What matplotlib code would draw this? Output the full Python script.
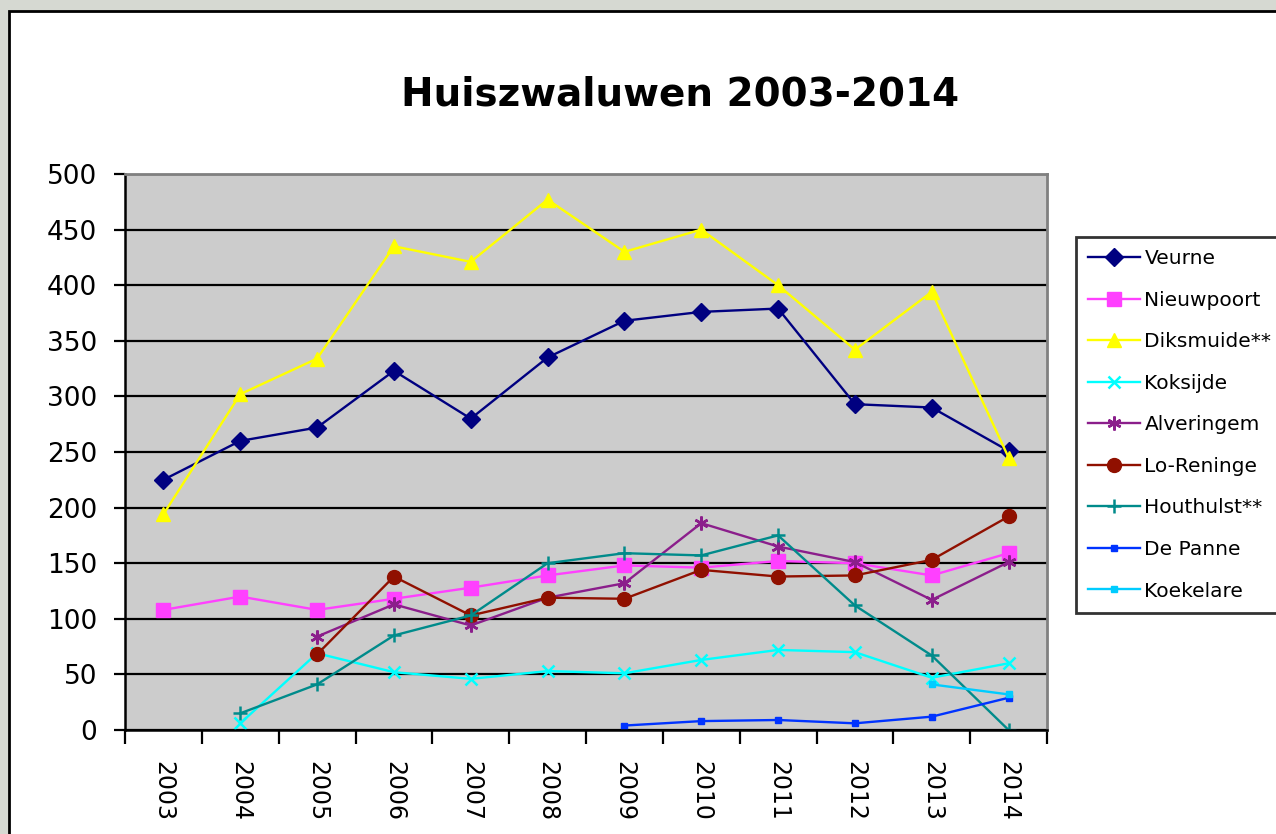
import numpy as np
import matplotlib
matplotlib.use('Agg')
import matplotlib.pyplot as plt
from matplotlib.patches import Rectangle

# Jaren en tellingen per gemeente (nan = geen telling)
years = ['2003', '2004', '2005', '2006', '2007', '2008',
         '2009', '2010', '2011', '2012', '2013', '2014']
nan = np.nan
veurne = [225, 260, 272, 323, 280, 335, 368, 376, 379, 293, 290, 251]
nieuwpoort = [108, 120, 108, 118, 128, 139, 148, 146, 152, 150, 139, 159]
diksmuide = [194, 302, 334, 435, 421, 477, 430, 450, 400, 342, 394, 245]
koksijde = [nan, 6, 69, 52, 46, 53, 51, 63, 72, 70, 47, 60]
alveringem = [nan, nan, 84, 113, 94, 119, 132, 186, 165, 151, 117, 151]
lo_reninge = [nan, nan, 68, 138, 103, 119, 118, 144, 138, 139, 153, 192]
houthulst = [nan, 15, 41, 85, 103, 150, 159, 157, 175, 112, 67, 0]
de_panne = [nan, nan, nan, nan, nan, nan, 4, 8, 9, 6, 12, 29]
koekelare = [nan, nan, nan, nan, nan, nan, nan, nan, nan, nan, 41, 32]

series = [
    ('Veurne', veurne, '#000080', 'D', 9),
    ('Nieuwpoort', nieuwpoort, '#FF40FF', 's', 10),
    ('Diksmuide**', diksmuide, '#FFFF00', '^', 10),
    ('Koksijde', koksijde, '#00FFFF', 'x', 9),
    ('Alveringem', alveringem, '#8B1E8B', (6, 2, 0), 10),
    ('Lo-Reninge', lo_reninge, '#901000', 'o', 10),
    ('Houthulst**', houthulst, '#008B8B', '+', 10),
    ('De Panne', de_panne, '#0033FF', 's', 4),
    ('Koekelare', koekelare, '#00CCFF', 's', 4),
]

fig = plt.figure(figsize=(12.76, 8.34), dpi=100)
fig.patch.set_facecolor('#D6D9D2')
# witte kaart met zwarte rand
fig.patches.append(Rectangle((9 / 1276, -0.1), 1.2, 1 - 11 / 834 + 0.1,
                             transform=fig.transFigure, facecolor='white',
                             edgecolor='black', linewidth=2, zorder=-10))

ax = fig.add_axes([125 / 1276, 1 - 730 / 834, 922 / 1276, 556 / 834])
ax.set_facecolor('#CCCCCC')

x = np.arange(len(years))
for name, vals, col, mk, ms in series:
    ax.plot(x, vals, color=col, marker=mk, markersize=ms, linewidth=1.7,
            markeredgewidth=1.8 if mk in ('x', '+', (6, 2, 0)) else 1,
            markeredgecolor=col, label=name)

ax.set_xlim(-0.5, len(years) - 0.5)
ax.set_ylim(0, 500)
ax.set_yticks(range(0, 501, 50))
ax.yaxis.grid(True, color='black', linewidth=1.6)
ax.set_axisbelow(True)
ax.set_xticks(np.arange(-0.5, len(years), 1))
ax.set_xticklabels([])
ax.set_xticks(x, minor=True)
ax.set_xticklabels(years, minor=True, rotation=-90, fontsize=17, va='top')
ax.tick_params(axis='x', which='minor', length=0, pad=22)
ax.tick_params(axis='x', which='major', length=10, width=1.6, direction='out')
ax.tick_params(axis='y', length=8, width=1.6, labelsize=19, pad=12)

for s in ['top', 'right']:
    ax.spines[s].set_color('#808080')
    ax.spines[s].set_linewidth(2)
for s in ['left', 'bottom']:
    ax.spines[s].set_color('black')
    ax.spines[s].set_linewidth(1.8)

fig.text(680 / 1276, 1 - 95 / 834, 'Huiszwaluwen 2003-2014', ha='center',
         va='center', fontsize=28, fontweight='bold')

leg = fig.legend(loc='upper left',
                 bbox_to_anchor=(1076 / 1276, 1 - 612 / 834, 260 / 1276, 375 / 834),
                 mode='expand', fontsize=14.5, frameon=True, fancybox=False,
                 edgecolor='black', labelspacing=1.12, handlelength=2.6,
                 handletextpad=0.2, borderpad=0.6, borderaxespad=0)
leg.get_frame().set_linewidth(2)

fig.savefig('out.png', dpi=100, facecolor=fig.get_facecolor())
